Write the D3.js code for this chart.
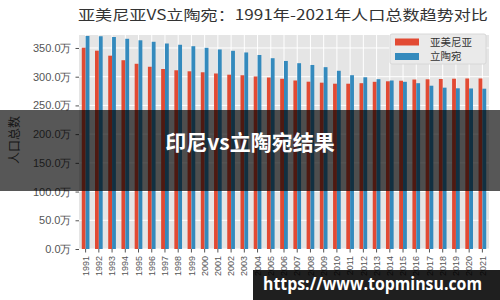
<!DOCTYPE html>
<html><head><meta charset="utf-8">
<script src="https://cdn.jsdelivr.net/npm/d3@7"></script>
<style>
html,body{margin:0;padding:0;background:#fff;}
svg{display:block;font-family:"Noto Sans CJK SC","Noto Sans",sans-serif;}
</style></head>
<body>
<svg id="c" width="500" height="300"></svg>
<script>
const years = ["1991","1992","1993","1994","1995","1996","1997","1998","1999","2000","2001","2002","2003","2004","2005","2006","2007","2008","2009","2010","2011","2012","2013","2014","2015","2016","2017","2018","2019","2020","2021"];
const armenia = [350.5,345.3,336.6,328.7,322.5,317.3,313.4,311.2,309.4,307.7,305.6,303.5,302.5,300.4,298.6,296.4,293.4,291.3,289.6,287.8,287.8,288.7,291.1,292.0,293.0,295.1,295.5,296.0,296.5,296.9,296.9];
const lithuania = [370.9,370.4,369.1,366.0,363.4,360.8,357.8,355.6,353.1,350.3,347.4,345.1,342.2,337.8,332.2,327.4,323.5,320.4,316.6,310.3,302.6,299.0,295.7,293.4,291.1,288.7,284.3,280.9,279.8,279.5,279.1];
const yTicks = [0,50,100,150,200,250,300,350];
const seriesNames = ["亚美尼亚","立陶宛"];
const seriesColors = ["#E24A33","#348ABD"];
const titleText = "亚美尼亚VS立陶宛：1991年-2021年人口总数趋势对比";
const yLabel = "人口总数";
const bannerText = "印尼vs立陶宛结果";
const watermark = "https://www.topminsu.com";

const svg = d3.select("#c");
const L = 79, R = 489, T = 35, B = 249;
const x = d3.scaleBand().domain(years).range([L, R]).padding(0);
const y = d3.scaleLinear().domain([0, 372.6]).range([B, T]);
const step = x.step(), bw = step * 0.29;

// panel
svg.append("rect").attr("x", L).attr("y", T).attr("width", R - L).attr("height", B - T).attr("fill", "#E5E5E5");
// grid
svg.append("g").selectAll("line").data(yTicks).join("line")
  .attr("x1", L).attr("x2", R).attr("y1", d => y(d)).attr("y2", d => y(d))
  .attr("stroke", "#fff").attr("stroke-width", 1);
svg.append("g").selectAll("line").data(years).join("line")
  .attr("x1", d => x(d) + step / 2).attr("x2", d => x(d) + step / 2).attr("y1", T).attr("y2", B)
  .attr("stroke", "#fff").attr("stroke-width", 1);

// bars
const series = [armenia, lithuania];
series.forEach((vals, si) => {
  svg.append("g").selectAll("rect").data(years).join("rect")
    .attr("x", (d) => x(d) + step / 2 + (si === 0 ? -bw : 0))
    .attr("width", bw)
    .attr("y", (d, i) => y(vals[i]))
    .attr("height", (d, i) => y(0) - y(vals[i]))
    .attr("fill", seriesColors[si]);
});

// axes
const ya = svg.append("g").attr("transform", `translate(${L},0)`)
  .call(d3.axisLeft(y).tickValues(yTicks).tickFormat(d => d.toFixed(1) + "万").tickSize(3.5).tickPadding(4));
ya.select(".domain").remove();
ya.selectAll("line").attr("stroke", "#555");
ya.selectAll("text").attr("fill", "#555").style("font-size", "11px");

const xa = svg.append("g").attr("transform", `translate(0,${B})`)
  .call(d3.axisBottom(x).tickSize(3.5).tickPadding(3));
xa.select(".domain").remove();
xa.selectAll("line").attr("stroke", "#555");
xa.selectAll("text").attr("fill", "#555").style("font-size", "9px")
  .attr("transform", "rotate(-90)").attr("text-anchor", "end")
  .attr("x", -7).attr("y", 0).attr("dy", "0.35em");

// y label
svg.append("text").attr("transform", "translate(19,140) rotate(-90)")
  .attr("text-anchor", "middle").attr("fill", "#444").style("font-size", "12px").text(yLabel);

// title
svg.append("text").attr("x", 78).attr("y", 20).attr("fill", "#333")
  .style("font-size", "14px").attr("textLength", 410).attr("lengthAdjust", "spacingAndGlyphs").text(titleText);

// legend
const lg = svg.append("g");
lg.append("rect").attr("x", 390).attr("y", 34).attr("width", 96).attr("height", 30)
  .attr("fill", "#EAEAEA").attr("stroke", "#d8d8d8").attr("rx", 2);
seriesNames.forEach((n, i) => {
  lg.append("rect").attr("x", 395).attr("y", 38.5 + i * 14.5).attr("width", 24).attr("height", 7).attr("fill", seriesColors[i]);
  lg.append("text").attr("x", 430).attr("y", 42 + i * 14.5).attr("dy", "0.35em").attr("fill", "#333")
    .style("font-size", "10.5px").text(n);
});

// banner overlay
svg.append("rect").attr("x", 0).attr("y", 110).attr("width", 500).attr("height", 81).attr("fill", "rgba(0,0,0,0.66)");
svg.append("text").attr("x", 250).attr("y", 143).attr("dy", "0.35em").attr("text-anchor", "middle")
  .attr("fill", "#fff").style("font-size", "21px").style("font-weight", "bold").text(bannerText);

// watermark
svg.append("rect").attr("x", 253).attr("y", 270).attr("width", 247).attr("height", 30).attr("fill", "rgba(0,0,0,0.88)");
svg.append("text").attr("x", 263).attr("y", 290).attr("fill", "#fff")
  .style("font-family", "'Open Sans','DejaVu Sans',sans-serif").style("font-size", "18px").style("font-weight", "bold")
  .attr("textLength", 219).attr("lengthAdjust", "spacingAndGlyphs").text(watermark);
</script>
</body></html>
